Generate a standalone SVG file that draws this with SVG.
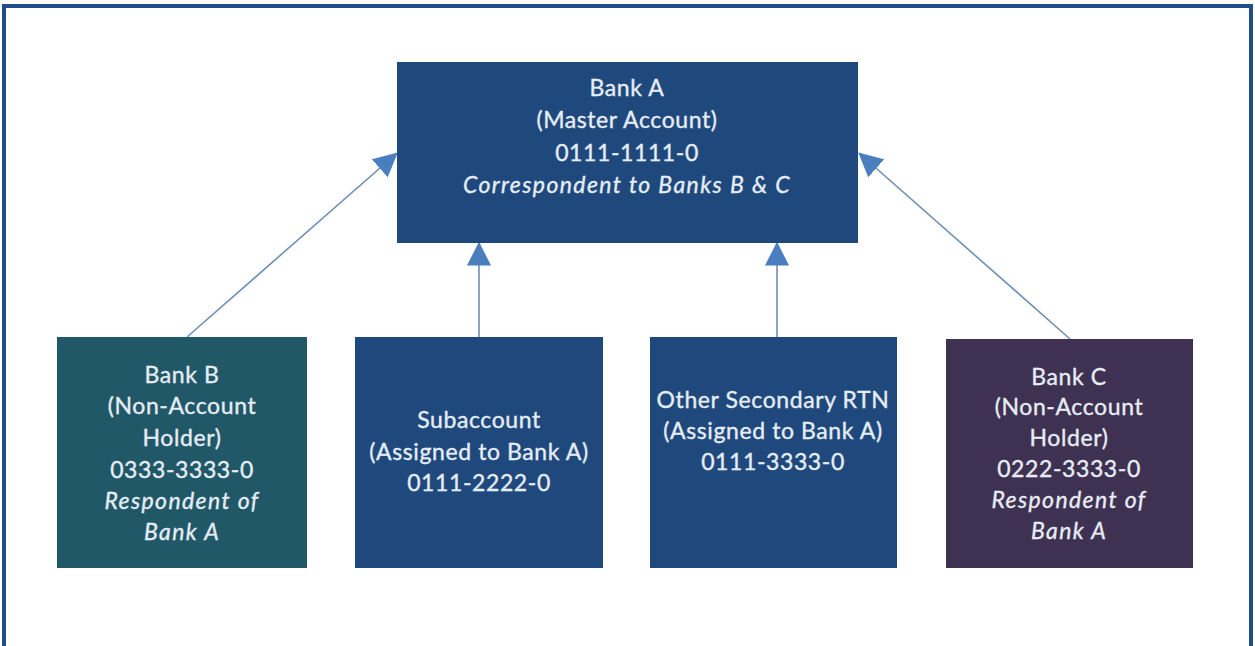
<svg xmlns="http://www.w3.org/2000/svg" width="1255" height="646" viewBox="0 0 1255 646">
<defs>
<style>
.t{font-family:Lato,"Open Sans","Liberation Sans",sans-serif;font-size:23px;letter-spacing:0.6px;fill:#e6edf5;stroke:#e6edf5;stroke-width:0.35;text-anchor:middle;}
.i{font-style:italic;letter-spacing:1.4px;}
.ln{stroke:#6f8fb4;stroke-width:1.6;fill:none;}
</style>
<marker id="ah" viewBox="0 0 10 10" refX="9" refY="5" markerWidth="24" markerHeight="24" markerUnits="userSpaceOnUse" orient="auto">
<path d="M0,0 L10,5 L0,10 Z" fill="#4a7ebf"/>
</marker>
</defs>
<rect width="1255" height="646" fill="#ffffff"/>
<path d="M4,646 V6 H1251 V646" fill="none" stroke="#1f4e89" stroke-width="4"/>
<g id="connectors">
<line class="ln" x1="187" y1="337" x2="396" y2="154" marker-end="url(#ah)"/>
<line class="ln" x1="479" y1="337" x2="479" y2="244" marker-end="url(#ah)"/>
<line class="ln" x1="777" y1="337" x2="777" y2="244" marker-end="url(#ah)"/>
<line class="ln" x1="1070" y1="339" x2="860" y2="154" marker-end="url(#ah)"/>
</g>
<g id="bankA">
<rect x="397" y="62" width="461" height="181" fill="#1f497d"/>
<text class="t" x="627" y="96">Bank A</text>
<text class="t" x="627" y="128">(Master Account)</text>
<text class="t" x="627" y="161">0111-1111-0</text>
<text class="t i" x="627" y="193">Correspondent to Banks B &amp; C</text>
</g>
<g id="bankB">
<rect x="57" y="337" width="250" height="231" fill="#215868"/>
<text class="t" x="182" y="383">Bank B</text>
<text class="t" x="182" y="414">(Non-Account</text>
<text class="t" x="182" y="446">Holder)</text>
<text class="t" x="182" y="478">0333-3333-0</text>
<text class="t i" x="182" y="509">Respondent of</text>
<text class="t i" x="182" y="540">Bank A</text>
</g>
<g id="subaccount">
<rect x="355" y="337" width="248" height="231" fill="#1f497d"/>
<text class="t" x="479" y="428">Subaccount</text>
<text class="t" x="479" y="460">(Assigned to Bank A)</text>
<text class="t" x="479" y="491">0111-2222-0</text>
</g>
<g id="otherRTN">
<rect x="650" y="337" width="247" height="231" fill="#1f497d"/>
<text class="t" x="773" y="408">Other Secondary RTN</text>
<text class="t" x="773" y="439">(Assigned to Bank A)</text>
<text class="t" x="773" y="470">0111-3333-0</text>
</g>
<g id="bankC">
<rect x="946" y="339" width="247" height="229" fill="#3f3151"/>
<text class="t" x="1069" y="385">Bank C</text>
<text class="t" x="1069" y="415">(Non-Account</text>
<text class="t" x="1069" y="446">Holder)</text>
<text class="t" x="1069" y="477">0222-3333-0</text>
<text class="t i" x="1069" y="508">Respondent of</text>
<text class="t i" x="1069" y="539">Bank A</text>
</g>
</svg>
